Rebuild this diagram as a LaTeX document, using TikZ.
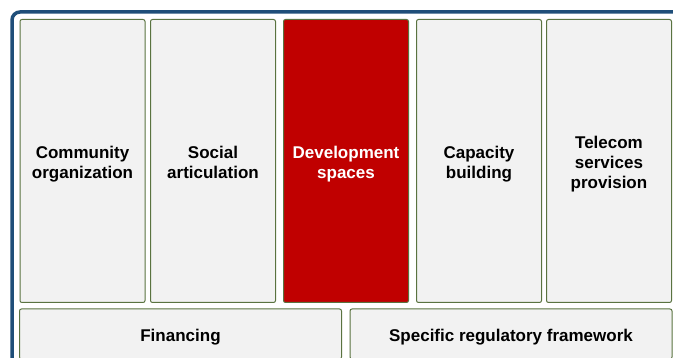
\documentclass[tikz,border=0pt]{standalone}
\usepackage{fontspec}
\setmainfont{Liberation Sans}
\definecolor{frameblue}{HTML}{1F4E79}
\definecolor{boxline}{HTML}{5A7340}
\definecolor{boxfill}{HTML}{F2F2F2}
\definecolor{devred}{HTML}{C00000}
\newcommand{\topgap}{\rule{0pt}{22pt}}
\tikzset{
  pillar/.style={draw=boxline, fill=boxfill, line width=1pt, rounded corners=2pt,
    minimum width=125pt, minimum height=283pt, align=center, inner sep=0pt,
    font=\bfseries\fontsize{17}{20}\selectfont}
}
\begin{document}
\begin{tikzpicture}[x=1pt, y=-1pt]
                \useasboundingbox (0,0) rectangle (673,358);
                \clip (0,0) rectangle (673,358);
                \fill[white] (0,0) rectangle (673,358);
                \draw[frameblue, line width=3.5pt, rounded corners=8pt] (12,420) -- (12,12) -- (720,12);
                \node[pillar] (community) at (82.5,161) {\topgap Community\\organization\strut};
                \node[pillar] (social) at (213,161) {\topgap Social\\articulation\strut};
                \node[pillar, fill=devred, text=white] (devspaces) at (346,161) {\topgap Development\\spaces\strut};
                \node[pillar] (capacity) at (479,161) {\topgap Capacity\\building\strut};
                \node[pillar] (telecom) at (609,161) {\topgap Telecom\\services\\provision\strut};
                \node[pillar, minimum width=322pt, minimum height=50pt] (financing) at (180.5,334) {\topgap Financing\strut};
                \node[pillar, minimum width=322pt, minimum height=50pt] (regulatory) at (511,334) {\topgap Specific regulatory framework\strut};
            \end{tikzpicture}
\end{document}
